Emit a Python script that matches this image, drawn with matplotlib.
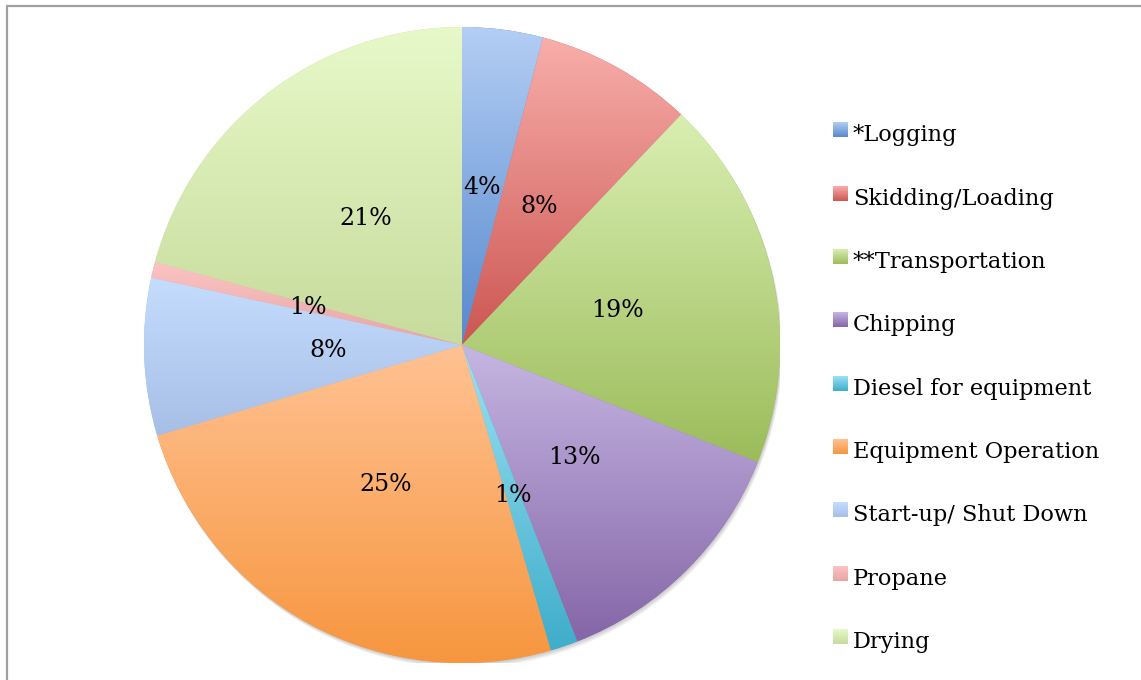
import numpy as np
import matplotlib.pyplot as plt
from matplotlib.colors import LinearSegmentedColormap
from matplotlib.patches import Circle

categories = ['*Logging', 'Skidding/Loading', '**Transportation', 'Chipping',
              'Diesel for equipment', 'Equipment Operation', 'Start-up/ Shut Down',
              'Propane', 'Drying']
shares = [4.1, 8.0, 18.9, 13.1, 1.4, 24.9, 8.0, 0.8, 20.8]

# each slice fades from a light tint at the top to its full colour at the bottom
top_colors = ['#b4cef5', '#f8aeaa', '#d9efb2', '#c6b6e2', '#9be2f3',
              '#ffc293', '#c4dcfd', '#fcc3c3', '#e7f9c9']
bottom_colors = ['#5689cc', '#cc5652', '#9cbc5a', '#8566a8', '#3fadca',
                 '#f7963f', '#a7bfe6', '#e6a6a5', '#c7db9c']

plt.rcParams['font.family'] = 'DejaVu Serif'
LEGEND_FS = 16.2
PCT_FS = 17

W, H = 1141, 680
fig = plt.figure(figsize=(W / 100, H / 100), dpi=100)

cx, cy, r = 462, 345, 318
ax = fig.add_axes([(cx - r) / W, (H - cy - r) / H, 2 * r / W, 2 * r / H])

# soft drop shadow falling down and to the right
for k in range(1, 6):
    ax.add_patch(Circle((0.0015 * k, -0.003 * k), 1.0, color='black',
                        alpha=0.045, lw=0, zorder=0))

wedges, _, pct_texts = ax.pie(shares, startangle=90, counterclock=False,
                              colors=bottom_colors, autopct='%.0f%%',
                              pctdistance=0.5,
                              wedgeprops=dict(linewidth=0),
                              textprops=dict(fontsize=PCT_FS, color='black'))

ramp = np.linspace(0, 1, 256).reshape(-1, 1)
for w, c0, c1 in zip(wedges, top_colors, bottom_colors):
    ext = w.get_path().get_extents()
    cmap = LinearSegmentedColormap.from_list('g', [c1, c0])
    im = ax.imshow(ramp, cmap=cmap, origin='lower', aspect='auto',
                   extent=[ext.x0, ext.x1, ext.y0, ext.y1], zorder=1.5,
                   interpolation='bilinear')
    im.set_clip_path(w)

for t in pct_texts:
    t.set_zorder(3)

# the Start-up label sits a little closer to the centre
w = wedges[6]
mid = np.deg2rad((w.theta1 + w.theta2) / 2)
pct_texts[6].set_position((0.42 * np.cos(mid), 0.42 * np.sin(mid)))

ax.set_aspect('equal')
ax.set_xlim(-1, 1)
ax.set_ylim(-1, 1)
ax.axis('off')

# overlay in pixel units for the legend and frame
ov = fig.add_axes([0, 0, 1, 1], zorder=5)
ov.patch.set_alpha(0)
ov.axis('off')

ov.plot([6, W], [5.5, 5.5], color='#a0a0a0', lw=1.6, solid_capstyle='butt')
ov.plot([7, 7], [5.5, H], color='#a0a0a0', lw=1.6, solid_capstyle='butt')

for i, (name, c0, c1) in enumerate(zip(categories, top_colors, bottom_colors)):
    base = 141.5 + i * 63.3
    cmap = LinearSegmentedColormap.from_list('g', [c0, c1])
    ov.imshow(ramp, cmap=cmap, origin='upper', aspect='auto',
              extent=[833, 848, base - 4, base - 19], interpolation='bilinear')
    ov.text(853, base, name, fontsize=LEGEND_FS, va='baseline', ha='left')

ov.set_xlim(0, W)
ov.set_ylim(H, 0)

fig.savefig('out.png', dpi=100, facecolor='white')
